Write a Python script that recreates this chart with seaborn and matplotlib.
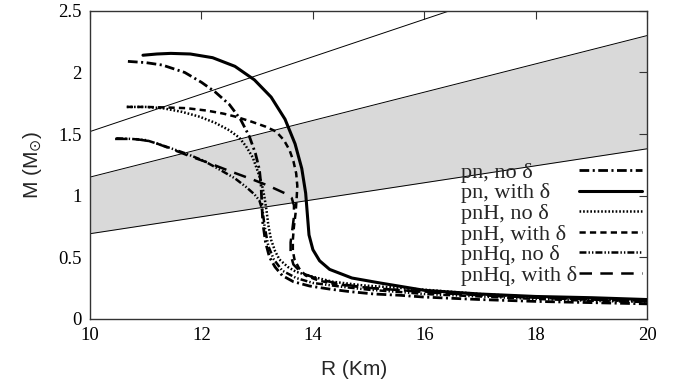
import numpy as np
import pandas as pd
import matplotlib
matplotlib.use("Agg")
import matplotlib.pyplot as plt
import seaborn as sns

# ---- data ----
band_R = [10, 20]
line_top = [1.52, 3.04]
band_high = [1.15, 2.30]
band_low = [0.69, 1.38]

pn_no_R = [10.68, 11.0, 11.3, 11.7, 12.0, 12.25, 12.5, 12.7, 12.86, 12.97, 13.04, 13.07, 13.08, 13.1, 13.15,
           13.22, 13.32, 13.45, 13.65, 13.94, 14.3, 14.65, 15.1, 15.55, 16.0, 17.0, 18.0, 19.0, 20.0]
pn_no_M = [2.09, 2.08, 2.06, 2.0, 1.92, 1.84, 1.74, 1.62, 1.48, 1.34, 1.21, 1.08, 0.97, 0.78, 0.62,
           0.50, 0.42, 0.35, 0.30, 0.265, 0.24, 0.22, 0.20, 0.19, 0.175, 0.155, 0.14, 0.13, 0.12]

pn_d_R = [10.95, 11.2, 11.45, 11.8, 12.2, 12.6, 12.95, 13.25, 13.5, 13.68, 13.8, 13.87, 13.9, 13.93, 14.0,
          14.12, 14.3, 14.7, 15.2, 15.6, 16.0, 17.0, 18.0, 19.0, 20.0]
pn_d_M = [2.14, 2.15, 2.155, 2.15, 2.12, 2.05, 1.94, 1.80, 1.62, 1.42, 1.22, 1.02, 0.85, 0.68, 0.56,
          0.47, 0.40, 0.33, 0.29, 0.26, 0.23, 0.20, 0.18, 0.17, 0.155]

pnH_no_R = [10.66, 11.0, 11.3, 11.65, 11.97, 12.25, 12.5, 12.68, 12.8, 12.92, 13.0, 13.08, 13.13, 13.17, 13.2,
            13.25, 13.32, 13.4, 13.55, 13.7, 14.0, 14.35, 14.9, 15.55, 16.0, 17.0, 18.0, 19.0, 20.0]
pnH_no_M = [1.72, 1.72, 1.71, 1.68, 1.64, 1.59, 1.53, 1.47, 1.40, 1.31, 1.21, 1.10, 0.99, 0.87, 0.76,
            0.64, 0.55, 0.48, 0.42, 0.38, 0.34, 0.30, 0.27, 0.25, 0.235, 0.20, 0.175, 0.155, 0.14]

pnH_d_R = [10.66, 11.0, 11.4, 11.73, 12.1, 12.4, 12.62, 12.9, 13.15, 13.34, 13.48, 13.58, 13.65, 13.7, 13.72,
           13.71, 13.69, 13.66, 13.64, 13.64, 13.67, 13.75, 13.87, 14.1, 14.4, 15.0, 15.6, 16.0, 17.0, 18.0,
           19.0, 20.0]
pnH_d_M = [1.72, 1.72, 1.715, 1.71, 1.69, 1.665, 1.64, 1.60, 1.56, 1.52, 1.45, 1.37, 1.28, 1.18, 1.08,
           0.99, 0.86, 0.75, 0.64, 0.55, 0.48, 0.41, 0.35, 0.31, 0.28, 0.25, 0.23, 0.22, 0.19, 0.17,
           0.155, 0.145]

pnHq_no_R = [10.47, 10.75, 11.01, 11.35, 11.73, 12.05, 12.33, 12.6, 12.8, 12.95, 13.04, 13.1, 13.13, 13.17,
             13.2, 13.3, 13.45, 13.7, 14.0, 14.5, 15.0, 15.6, 16.0, 17.0, 18.0, 19.0, 20.0]
pnHq_no_M = [1.465, 1.46, 1.45, 1.40, 1.34, 1.28, 1.21, 1.14, 1.07, 1.01, 0.96, 0.87, 0.76, 0.66,
             0.59, 0.48, 0.39, 0.33, 0.29, 0.26, 0.235, 0.215, 0.20, 0.18, 0.16, 0.145, 0.135]

pnHq_d_R = [10.45, 10.8, 11.1, 11.45, 11.79, 12.1, 12.5, 12.92, 13.2, 13.49, 13.62, 13.66, 13.66, 13.63, 13.6,
            13.6, 13.65, 13.8, 14.1, 14.5, 15.0, 15.6, 16.0, 17.0, 18.0, 19.0, 20.0]
pnHq_d_M = [1.46, 1.46, 1.44, 1.38, 1.32, 1.27, 1.20, 1.13, 1.08, 1.02, 0.98, 0.92, 0.83, 0.72, 0.62,
            0.52, 0.44, 0.37, 0.32, 0.28, 0.25, 0.23, 0.215, 0.19, 0.17, 0.155, 0.14]

labels = ["pn, no δ", "pn, with δ", "pnH, no δ", "pnH, with δ", "pnHq, no δ", "pnHq, with δ"]
x_ticks = [10, 12, 14, 16, 18, 20]
y_ticks = [0, 0.5, 1, 1.5, 2, 2.5]
y_ticklabels = ["0", "0.5", "1", "1.5", "2", "2.5"]

# ---- style ----
sns.set_theme(style="white")
plt.rcParams["lines.scale_dashes"] = False
plt.rcParams["font.family"] = ["Liberation Serif", "DejaVu Serif"]
plt.rcParams["mathtext.fontset"] = "dejavusans"

fig = plt.figure(figsize=(6.82, 3.90), dpi=100)
ax = fig.add_axes([0.132, 0.183, 0.817, 0.789])

ax.fill_between(band_R, band_low, band_high, color="#d9d9d9", lw=0, zorder=0)
for arr in (line_top, band_high, band_low):
    sns.lineplot(x=band_R, y=arr, ax=ax, color="black", lw=0.7, zorder=1)

series = [
    (pn_no_R, pn_no_M, dict(lw=2.0, ls=(0, (7, 2.5, 1.5, 2.5)))),
    (pn_d_R, pn_d_M, dict(lw=2.2, ls="-")),
    (pnH_no_R, pnH_no_M, dict(lw=1.8, ls=(0, (1.2, 1.4)))),
    (pnH_d_R, pnH_d_M, dict(lw=1.8, ls=(0, (4.5, 3)))),
    (pnHq_no_R, pnHq_no_M, dict(lw=1.8, ls=(0, (5, 1.5, 1, 1.5, 1, 1.5)))),
    (pnHq_d_R, pnHq_d_M, dict(lw=1.8, ls=(0, (9, 6)))),
]
handles = []
for (R, M, st), lab in zip(series, labels):
    df = pd.DataFrame({"R": R, "M": M})
    sns.lineplot(data=df, x="R", y="M", sort=False, estimator=None, ax=ax,
                 color="black", label=lab, zorder=3, **st)
    handles.append(ax.lines[-1])

ax.set_xlim(10, 20)
ax.set_ylim(0, 2.5)
ax.set_xticks(x_ticks)
ax.set_xticklabels([str(t) for t in x_ticks])
ax.set_yticks(y_ticks)
ax.set_yticklabels(y_ticklabels)
ax.tick_params(direction="in", length=6, width=0.8, color="#333333", labelsize=13.5,
               top=True, right=True, labelcolor="black", pad=6)
for sp in ax.spines.values():
    sp.set_color("#333333")
    sp.set_linewidth(1.0)

ax.set_xlabel("R (Km)", family=["Liberation Sans", "DejaVu Sans"], fontsize=15)
ax.xaxis.set_label_coords(0.474, -0.135)
ax.set_ylabel(r"M (M$_{\odot}$)", family=["Liberation Sans", "DejaVu Sans"], fontsize=15, labelpad=10)

leg_kw = dict(frameon=False, fontsize=16, labelspacing=0.0, borderaxespad=0, borderpad=0)
# handles column on the right (empty labels keep the same row heights)
leg1 = ax.legend(handles, [""] * len(handles), loc="upper right", bbox_to_anchor=(0.99, 0.508),
                 markerfirst=False, handlelength=2.8, handletextpad=0, **leg_kw)
ax.add_artist(leg1)
# left-aligned texts
leg2 = ax.legend(handles, labels, loc="upper left", bbox_to_anchor=(0.665, 0.508),
                 markerfirst=True, handlelength=0, handletextpad=0, **leg_kw)
for h in leg2.legend_handles:
    h.set_visible(False)

fig.savefig("out.png", dpi=100)
